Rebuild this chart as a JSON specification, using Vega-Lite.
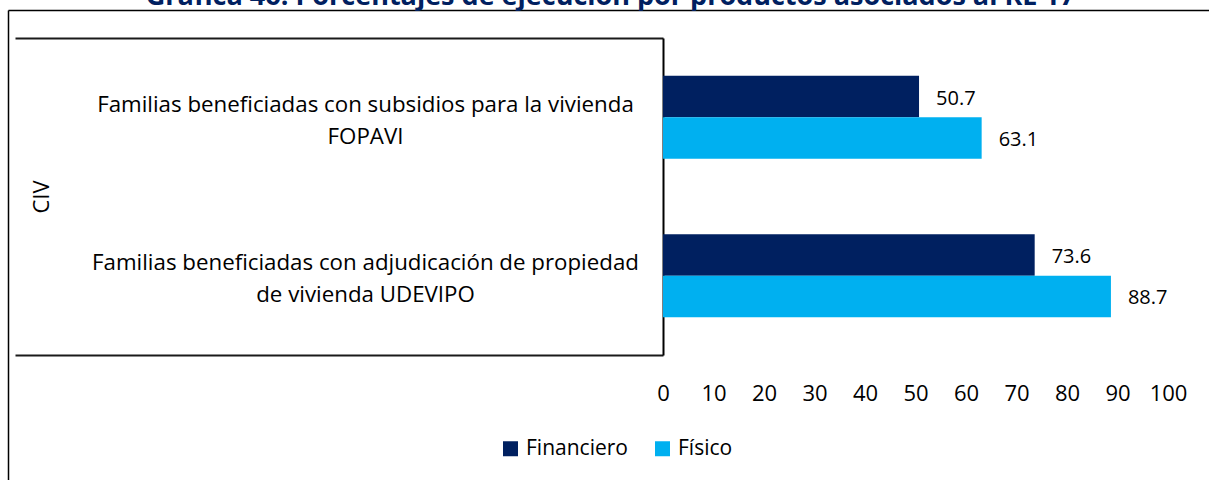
{
  "$schema": "https://vega.github.io/schema/vega-lite/v6.json",
  "width": 505,
  "height": 317,
  "autosize": {"type": "none"},
  "padding": {"left": 663, "top": 38, "right": 41, "bottom": 125},
  "title": {
    "text": "Gráfica 46: Porcentajes de ejecución por productos asociados al RE 17",
    "color": "#002060",
    "fontSize": 27,
    "fontWeight": "bold",
    "font": "Open Sans",
    "anchor": "middle",
    "frame": "group",
    "dx": -305,
    "offset": -1
  },
  "data": {
    "values": [
      {"producto": "Familias beneficiadas con subsidios para la vivienda FOPAVI", "tipo": "Financiero", "valor": 50.7},
      {"producto": "Familias beneficiadas con subsidios para la vivienda FOPAVI", "tipo": "Físico", "valor": 63.1},
      {"producto": "Familias beneficiadas con adjudicación de propiedad de vivienda UDEVIPO", "tipo": "Financiero", "valor": 73.6},
      {"producto": "Familias beneficiadas con adjudicación de propiedad de vivienda UDEVIPO", "tipo": "Físico", "valor": 88.7}
    ]
  },
  "layer": [
    {
      "encoding": {
        "y": {
          "field": "producto",
          "type": "nominal",
          "sort": null,
          "title": "CIV",
          "scale": {"paddingInner": 0, "paddingOuter": 0},
          "axis": {
            "domain": true,
            "domainColor": "#000000",
            "domainWidth": 2,
            "ticks": true,
            "tickBand": "extent",
            "tickSize": 648,
            "tickWidth": 2,
            "tickColor": "#1a1a1a",
            "tickOpacity": {"condition": {"test": "datum.index == 0", "value": 0}, "value": 1},
            "labelExpr": "datum.value == 'Familias beneficiadas con subsidios para la vivienda FOPAVI' ? ['Familias beneficiadas con subsidios para la vivienda', 'FOPAVI'] : (datum.value == 'Familias beneficiadas con adjudicación de propiedad de vivienda UDEVIPO' ? ['Familias beneficiadas con adjudicación de propiedad', 'de vivienda UDEVIPO'] : '')",
            "labelAlign": "center",
            "labelBaseline": "middle",
            "labelPadding": -350,
            "labelOffset": -13,
            "labelFontSize": 22.3,
            "labelLineHeight": 32,
            "labelFont": "Open Sans",
            "labelColor": "#000000",
            "labelLimit": 0,
            "labelOverlap": false,
            "labelBound": false,
            "grid": false,
            "titleFont": "Open Sans",
            "titleFontSize": 22,
            "titleFontWeight": "normal",
            "titleColor": "#000000",
            "titleAngle": 270,
            "titleAlign": "center",
            "titleBaseline": "middle",
            "titleX": -622,
            "titleY": 158.5
          }
        },
        "yOffset": {
          "field": "tipo",
          "type": "nominal",
          "sort": ["Financiero", "Físico"],
          "scale": {"paddingInner": 0, "paddingOuter": 0.91}
        },
        "x": {
          "field": "valor",
          "type": "quantitative",
          "title": null,
          "scale": {"domain": [0, 100], "nice": false},
          "axis": {
            "values": [0, 10, 20, 30, 40, 50, 60, 70, 80, 90, 100],
            "domain": false,
            "ticks": false,
            "grid": false,
            "labelFontSize": 22,
            "labelFont": "Open Sans",
            "labelColor": "#000000",
            "labelPadding": 28,
            "labelFlush": false
          }
        }
      },
      "layer": [
        {
          "mark": {"type": "bar"},
          "encoding": {
            "color": {
              "field": "tipo",
              "type": "nominal",
              "scale": {"domain": ["Financiero", "Físico"], "range": ["#002060", "#00B0F0"]},
              "legend": {
                "title": null,
                "orient": "none",
                "legendX": -163,
                "legendY": 400,
                "direction": "horizontal",
                "symbolType": "square",
                "symbolSize": 225,
                "symbolStrokeWidth": 0,
                "labelFontSize": 21,
                "labelFont": "Open Sans",
                "labelColor": "#000000",
                "labelOffset": 5,
                "columnPadding": 24
              }
            }
          }
        },
        {
          "mark": {"type": "text", "align": "left", "baseline": "middle", "dx": 17, "dy": 2, "fontSize": 20, "font": "Open Sans", "color": "#000000"},
          "encoding": {
            "text": {"field": "valor", "type": "quantitative", "format": ".1f"}
          }
        }
      ]
    },
    {
      "mark": {"type": "point", "opacity": 0},
      "encoding": {
        "x": {
          "field": "valor",
          "type": "quantitative",
          "scale": {"domain": [0, 100], "range": [-655, 546], "nice": false, "zero": false},
          "axis": {
            "orient": "top",
            "offset": 28,
            "domain": true,
            "domainColor": "#000000",
            "domainWidth": 1.5,
            "ticks": false,
            "labels": false,
            "grid": false,
            "title": null
          }
        },
        "y": {
          "field": "valor",
          "type": "quantitative",
          "scale": {"domain": [0, 100], "range": [442, -28], "nice": false, "zero": false},
          "axis": {
            "orient": "left",
            "offset": 655,
            "domain": true,
            "domainColor": "#000000",
            "domainWidth": 1.5,
            "ticks": false,
            "labels": false,
            "grid": false,
            "title": null
          }
        }
      }
    }
  ],
  "resolve": {
    "scale": {"x": "independent", "y": "independent"},
    "axis": {"x": "independent", "y": "independent"}
  },
  "config": {
    "view": {"stroke": null},
    "background": "#ffffff"
  }
}
